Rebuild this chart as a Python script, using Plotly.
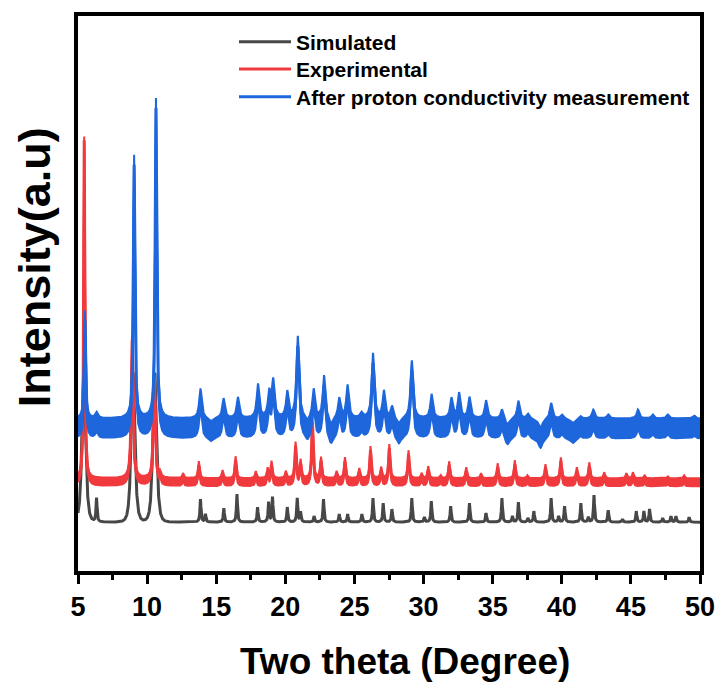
import numpy as np
import plotly.graph_objects as go

# ---------------- data ----------------
# Intensities are in arbitrary units (a.u.); series are stacked with offsets.
two_theta_range = [5, 50]
x_ticks = [5, 10, 15, 20, 25, 30, 35, 40, 45, 50]

# Simulated pattern (cusp-shaped main reflections + sharp minor reflections)
sim_main_pos = [5.42, 8.98, 10.55]
sim_main_height = [150, 150, 150]
sim_main_hw = 0.24
sim_pos = [6.34, 13.86, 14.22, 15.55, 16.50, 17.99, 18.79, 19.07, 20.14, 20.86,
           21.10, 22.08, 22.76, 23.90, 24.51, 25.54, 26.34, 27.08, 27.71, 29.15,
           30.06, 30.56, 31.96, 33.32, 34.52, 35.67, 36.43, 36.86, 37.55, 37.98,
           39.23, 39.77, 40.20, 41.38, 41.92, 42.33, 43.36, 44.39, 45.39, 45.94,
           46.35, 47.30, 47.90, 48.26, 49.21]
sim_height = [24, 23, 8, 14, 28, 15, 20, 25, 15, 24,
              10, 6, 23, 8, 8, 8, 24, 19, 13, 24,
              5, 21, 16, 19, 9, 24, 6, 20, 4, 11,
              24, 6, 16, 19, 5, 27, 12, 3, 11, 11,
              13, 4, 6, 6, 5]
sim_fwhm = 0.09

# Experimental pattern
exp_main_pos = [5.45, 8.92, 10.52]
exp_main_height = [343, 143, 105]
exp_main_fwhm = [0.10, 0.16, 0.16]
exp_pos = [10.93, 12.60, 13.74, 15.46, 16.40, 17.86, 18.72, 19.00, 20.03, 20.74,
           21.10, 21.96, 22.58, 23.71, 24.31, 25.35, 26.16, 26.93, 27.52, 28.91,
           29.86, 30.34, 31.23, 31.85, 33.09, 34.16, 35.36, 36.60, 37.51, 38.82,
           39.93, 41.09, 41.99, 43.07, 44.67, 45.15, 45.99, 47.66, 48.85]
exp_height = [5, 5, 17, 8, 22, 7, 10, 17, 7, 36,
              18, 60, 21, 7, 21, 10, 32, 11, 34, 28,
              5, 12, 3, 17, 11, 5, 15, 18, 3, 14,
              21, 11, 16, 6, 5, 6, 3, 2, 3]
exp_fwhm = 0.13

# After proton conductivity measurement
aft_main_pos = [5.50, 9.06, 10.64]
aft_main_height = [108, 264, 321]
aft_main_fwhm = [0.13, 0.14, 0.14]
aft_pos = [6.34, 13.86, 15.53, 16.57, 18.02, 18.83, 19.12, 20.14, 20.90, 22.05,
           22.80, 23.90, 24.50, 25.51, 26.34, 27.13, 27.72, 29.15, 30.58, 32.02,
           32.57, 33.32, 34.52, 35.67, 36.86, 37.55, 39.23, 40.02, 41.33, 42.28,
           43.36, 45.51, 46.58, 47.66, 49.57]
aft_height = [6, 30, 20, 21, 34, 25, 37, 26, 82, 29,
              43, 20, 33, 5, 65, 27, 12, 58, 24, 20,
              25, 21, 18, 10, 18, 5, 16, 4, 3, 9,
              4, 9, 4, 4, 3]
aft_fwhm = 0.22
aft_dip_pos = [14.58, 21.60, 23.30, 28.20, 36.07, 38.46, 40.80]
aft_dip_depth = [4, 5, 8, 7, 7, 10, 5]
aft_dip_fwhm = 0.35

# stacking offsets and noise-band amplitudes (a.u.)
sim_offset = 49
exp_offset = 93
exp_noise = 8
aft_offset = 153
aft_noise = 20

names = ["Simulated", "Experimental", "After proton conductivity measurement"]
colors = ["#474747", "#f03a3e", "#1e66dc"]


# ---------------- profile building ----------------
def lorentz_sum(x, pos, height, fwhm):
    y = np.zeros_like(x)
    fwhm = np.broadcast_to(np.asarray(fwhm, dtype=float), (len(pos),))
    for p, h, w in zip(pos, height, fwhm):
        g = w / 2.0
        y += h * g * g / ((x - p) ** 2 + g * g)
    return y


def lorentz2_sum(x, pos, height, hw):
    y = np.zeros_like(x)
    for p, h in zip(pos, height):
        y += h / (1 + ((x - p) / hw) ** 2) ** 2
    return y


x = np.arange(two_theta_range[0], two_theta_range[1] + 1e-9, 0.01)

sim_y = (sim_offset
         + lorentz2_sum(x, sim_main_pos, sim_main_height, sim_main_hw)
         + lorentz_sum(x, sim_pos, sim_height, sim_fwhm))
exp_prof = (lorentz_sum(x, exp_main_pos, exp_main_height, exp_main_fwhm)
            + lorentz_sum(x, exp_pos, exp_height, exp_fwhm))
aft_prof = (lorentz_sum(x, aft_main_pos, aft_main_height, aft_main_fwhm)
            + lorentz_sum(x, aft_pos, aft_height, aft_fwhm)
            - lorentz_sum(x, aft_dip_pos, aft_dip_depth, aft_dip_fwhm))

fig = go.Figure()

fig.add_trace(go.Scatter(x=x, y=sim_y, mode="lines", name=names[0],
                         legend="legend",
                         line=dict(color=colors[0], width=3)))


def add_noisy(prof, offset, noise, name, color, legend_id):
    upper = offset + prof
    lower = offset - noise + prof
    fig.add_trace(go.Scatter(x=x, y=lower, mode="lines", showlegend=False,
                             hoverinfo="skip", line=dict(color=color, width=2)))
    fig.add_trace(go.Scatter(x=x, y=upper, mode="lines", showlegend=False,
                             hoverinfo="skip", fill="tonexty", fillcolor=color,
                             line=dict(color=color, width=2)))
    fig.add_trace(go.Scatter(x=x, y=offset - noise / 2 + prof, mode="lines",
                             name=name, legend=legend_id,
                             line=dict(color=color, width=3)))


add_noisy(exp_prof, exp_offset, exp_noise, names[1], colors[1], "legend2")
add_noisy(aft_prof, aft_offset, aft_noise, names[2], colors[2], "legend3")

font_family = "Liberation Sans, Arial, sans-serif"
legend_font = dict(family=font_family, size=21, color="black", weight="bold")


def legend_box(ypos):
    return dict(x=0.2508, y=ypos, xanchor="left", yanchor="top",
                bgcolor="rgba(0,0,0,0)", borderwidth=0,
                font=legend_font, itemwidth=52)


fig.update_layout(
    width=727, height=688,
    margin=dict(l=78, r=21, t=14, b=117),
    paper_bgcolor="white", plot_bgcolor="white",
    showlegend=True,
    legend=legend_box(0.990),
    legend2=legend_box(0.941),
    legend3=legend_box(0.891),
    font=dict(family=font_family, color="black"),
    annotations=[
        dict(text="Two theta (Degree)", xref="paper", yref="paper",
             x=0.525, y=-0.163, xanchor="center", yanchor="middle",
             showarrow=False,
             font=dict(family=font_family, size=37, color="black", weight="bold")),
        dict(text="Intensity(a.u)", xref="paper", yref="paper",
             x=-0.070, y=0.548, xanchor="center", yanchor="middle",
             textangle=-90, showarrow=False,
             font=dict(family=font_family, size=45, color="black", weight="bold")),
    ],
)

fig.update_xaxes(
    range=two_theta_range, tickmode="array", tickvals=x_ticks,
    ticktext=[str(t) for t in x_ticks],
    ticks="outside", ticklen=9, tickwidth=3, tickcolor="black",
    minor=dict(ticks="outside", dtick=2.5, tick0=5, ticklen=5, tickwidth=3,
               tickcolor="black"),
    showline=True, linewidth=3.5, linecolor="black", mirror=True,
    showgrid=False, zeroline=False,
    tickfont=dict(family=font_family, size=27, color="black", weight="bold"),
)
fig.update_yaxes(
    range=[0, 557], showticklabels=False, ticks="",
    showline=True, linewidth=3.5, linecolor="black", mirror=True,
    showgrid=False, zeroline=False,
)

fig.write_html("out.html")
